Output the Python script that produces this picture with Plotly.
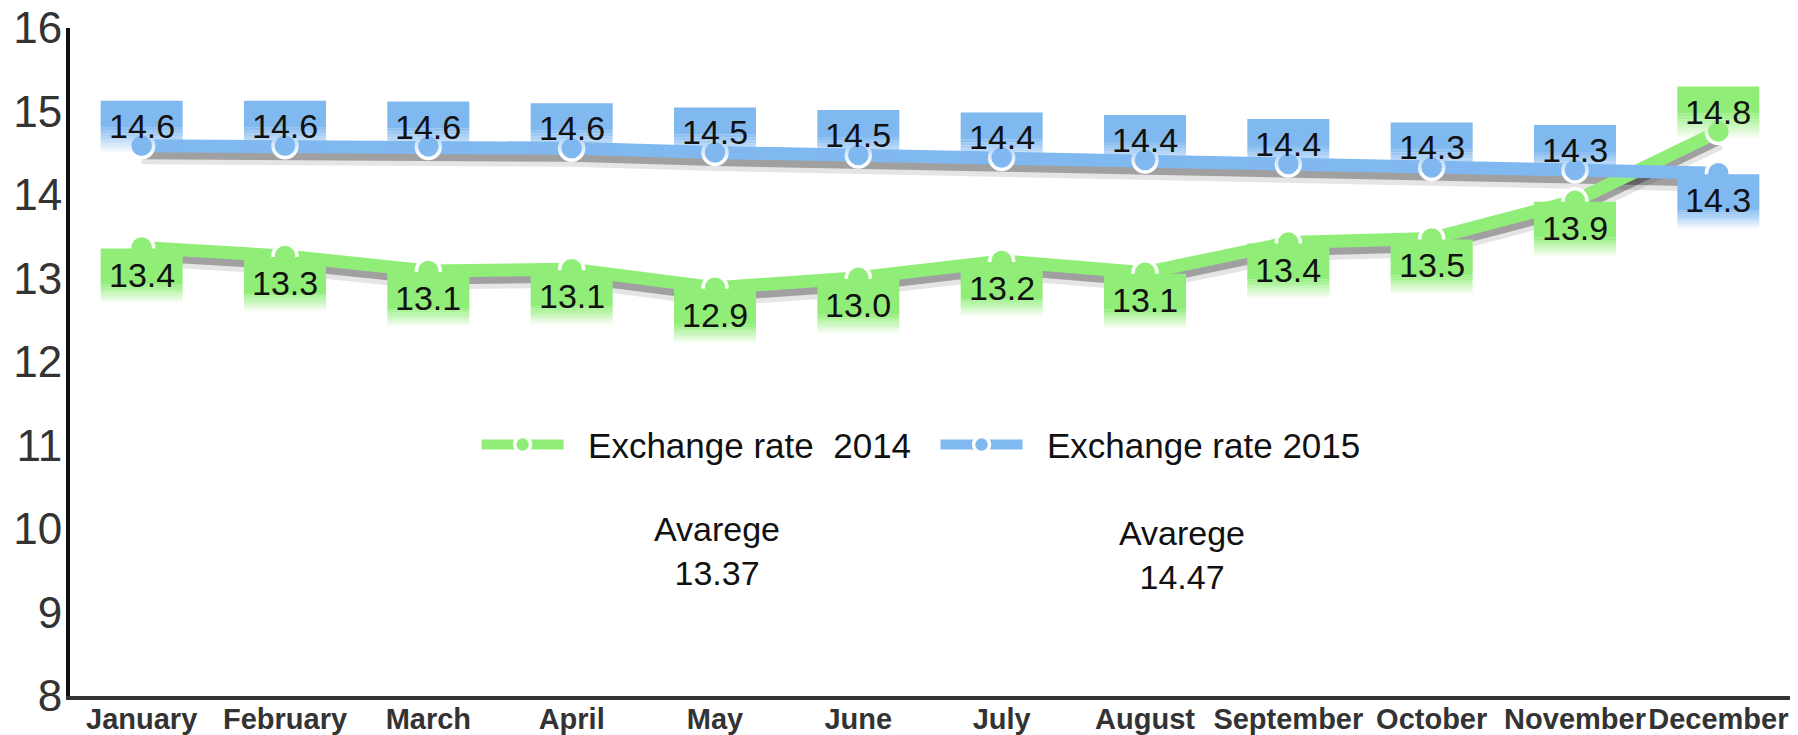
import plotly.graph_objects as go

# ── Data ──────────────────────────────────────────────────────────────────────

months = ["January", "February", "March", "April", "May", "June",
          "July", "August", "September", "October", "November", "December"]

rate_2014 = [13.37, 13.27, 13.09, 13.11, 12.89, 13.01,
             13.21, 13.07, 13.43, 13.48, 13.93, 14.76]
rate_2015 = [14.59, 14.59, 14.58, 14.56, 14.51, 14.48,
             14.45, 14.42, 14.37, 14.33, 14.30, 14.26]

avg_2014 = "13.37"
avg_2015 = "14.47"

y_ticks = [8, 9, 10, 11, 12, 13, 14, 15, 16]

# ── Style ─────────────────────────────────────────────────────────────────────

GREEN = "#90ee78"
BLUE = "#80b8f0"
FONT = "Liberation Sans, Arial, sans-serif"
Y_RANGE = [8, 16]
SHADOW_SHIFT = 0.09   # in y units, pushes the shadow ~7px down
NB = "\u00a0"


def label_boxes(idx, value, color, above):
    """Rectangle behind a value label, solid on top and fading out downwards."""
    if above:
        top, solid, fade = 45, 27, 24
    else:
        top, solid, fade = -1, 36, 18
    common = dict(type="rect", xref="x", yref="y2", xsizemode="pixel",
                  ysizemode="pixel", xanchor=idx, yanchor=value,
                  x0=-41, x1=41, fillcolor=color, line_width=0, layer="above")
    out = [dict(common, y0=top - solid, y1=top)]
    steps = 8
    h = fade / steps
    for i in range(steps):
        y1 = top - solid - i * h
        out.append(dict(common, y0=y1 - h, y1=y1, opacity=1 - (i + 1) / (steps + 1)))
    return out


fig = go.Figure()

# drop shadows on the base axis (shifted range), real lines on the overlay axis
for vals in (rate_2014, rate_2015):
    fig.add_trace(go.Scatter(x=months, y=vals, mode="lines", yaxis="y",
                             line=dict(color="rgba(0,0,0,0.10)", width=22),
                             showlegend=False, hoverinfo="skip"))
    fig.add_trace(go.Scatter(x=months, y=vals, mode="lines", yaxis="y",
                             line=dict(color="rgba(0,0,0,0.30)", width=12),
                             showlegend=False, hoverinfo="skip"))

for name, vals, color in ((NB * 2 + "Exchange rate" + NB + " 2014" + NB * 2, rate_2014, GREEN),
                          (NB * 2 + "Exchange rate 2015", rate_2015, BLUE)):
    fig.add_trace(go.Scatter(
        x=months, y=vals, name=name, mode="lines+markers", yaxis="y2",
        line=dict(color=color, width=13),
        marker=dict(size=24, color=color, line=dict(color="white", width=3.5)),
    ))

shapes, annotations = [], []
for i, m in enumerate(months):
    for vals, other, color in ((rate_2015, rate_2014, BLUE), (rate_2014, rate_2015, GREEN)):
        above = vals[i] > other[i]
        shapes += label_boxes(i, vals[i], color, above)
        annotations.append(dict(
            x=i, y=vals[i], xref="x", yref="y2", text=f"{vals[i]:.1f}",
            showarrow=False, yshift=20 if above else -27,
            font=dict(family=FONT, size=34, color="#111"),
        ))

for x, y, txt in ((0.376, (696 - 551) / 668, avg_2014), (0.6465, (696 - 555) / 668, avg_2015)):
    annotations.append(dict(x=x, y=y, xref="paper", yref="paper",
                            xanchor="center", yanchor="middle",
                            text="Avarege<br>" + txt, showarrow=False,
                            font=dict(family=FONT, size=34, color="#111")))

fig.update_layout(
    width=1798, height=735,
    margin=dict(l=70, r=8, t=28, b=39),
    paper_bgcolor="white", plot_bgcolor="white",
    font=dict(family=FONT),
    shapes=shapes, annotations=annotations,
    showlegend=True,
    legend=dict(orientation="h", x=0.2364, xanchor="left", y=0.376, yanchor="middle",
                font=dict(family=FONT, size=35, color="#111"),
                itemwidth=82, bgcolor="rgba(0,0,0,0)"),
    xaxis=dict(type="category", range=[-0.5, 11.5], showgrid=False, zeroline=False,
               showline=True, linecolor="#333", linewidth=4, automargin=False,
               tickangle=0, ticklabelstandoff=-6,
               tickfont=dict(family=FONT, size=29, color="#333", weight="bold"),
               ticks=""),
    yaxis=dict(range=[Y_RANGE[0] + SHADOW_SHIFT, Y_RANGE[1] + SHADOW_SHIFT],
               visible=False, showgrid=False, zeroline=False, automargin=False),
    yaxis2=dict(range=Y_RANGE, overlaying="y", side="left", tickvals=y_ticks,
                showgrid=False, zeroline=False, showline=True, automargin=False,
                linecolor="#111", linewidth=4, ticks="", ticklabelstandoff=-5,
                tickfont=dict(family=FONT, size=44, color="#333")),
)

# the page body has an 8px default margin; drop it so the figure fills the window
fig.write_html("out.html", config={"displayModeBar": False},
               post_script="document.body.style.margin = '0';")
